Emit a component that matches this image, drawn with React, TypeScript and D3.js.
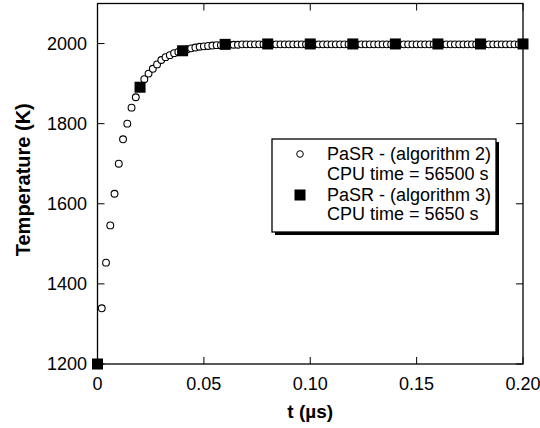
import React from "react";
import * as d3 from "d3";

const tAlg2 = [
  0, 0.002, 0.004, 0.006, 0.008, 0.01, 0.012, 0.014, 0.016, 0.018,
  0.02, 0.022, 0.024, 0.026, 0.028, 0.03, 0.032, 0.034, 0.036, 0.038,
  0.04, 0.042, 0.044, 0.046, 0.048, 0.05, 0.052, 0.054, 0.056, 0.058,
  0.06, 0.062, 0.064, 0.066, 0.068, 0.07, 0.072, 0.074, 0.076, 0.078,
  0.08, 0.082, 0.084, 0.086, 0.088, 0.09, 0.092, 0.094, 0.096, 0.098,
  0.1, 0.102, 0.104, 0.106, 0.108, 0.11, 0.112, 0.114, 0.116, 0.118,
  0.12, 0.122, 0.124, 0.126, 0.128, 0.13, 0.132, 0.134, 0.136, 0.138,
  0.14, 0.142, 0.144, 0.146, 0.148, 0.15, 0.152, 0.154, 0.156, 0.158,
  0.16, 0.162, 0.164, 0.166, 0.168, 0.17, 0.172, 0.174, 0.176, 0.178,
  0.18, 0.182, 0.184, 0.186, 0.188, 0.19, 0.192, 0.194, 0.196, 0.198,
  0.2,
];
const tempAlg2 = [
  1200, 1339, 1453, 1546, 1625, 1700, 1761, 1800, 1840, 1866,
  1890, 1911, 1925, 1937, 1948, 1959, 1966, 1971, 1976, 1979,
  1982, 1985, 1988, 1990, 1992, 1993, 1994, 1995, 1996, 1996,
  1997, 1997, 1997, 1997, 1998, 1998, 1998, 1998, 1998, 1998,
  1998, 1998, 1998, 1998, 1998, 1998, 1998, 1998, 1998, 1998,
  1998, 1998, 1998, 1998, 1998, 1998, 1998, 1998, 1998, 1998,
  1998, 1998, 1998, 1998, 1998, 1998, 1998, 1998, 1998, 1998,
  1998, 1998, 1998, 1998, 1998, 1998, 1998, 1998, 1998, 1998,
  1998, 1998, 1998, 1998, 1998, 1998, 1998, 1998, 1998, 1998,
  1998, 1998, 1998, 1998, 1998, 1998, 1998, 1998, 1998, 1998,
  1998,
];
const tAlg3 = [0, 0.02, 0.04, 0.06, 0.08, 0.1, 0.12, 0.14, 0.16, 0.18, 0.2];
const tempAlg3 = [1200, 1891, 1982, 1998, 1999, 1999, 1999, 1999, 1999, 1999, 1999];

const xTicks = [0, 0.05, 0.1, 0.15, 0.2];
const xTickLabels = ["0", "0.05", "0.10", "0.15", "0.20"];
const yTicks = [1200, 1400, 1600, 1800, 2000];
const yTickLabels = ["1200", "1400", "1600", "1800", "2000"];
const legendLines = [
  "PaSR - (algorithm 2)",
  "CPU time = 56500 s",
  "PaSR - (algorithm 3)",
  "CPU time = 5650 s",
];

const W = 540;
const H = 428;
const L = 97.5, R = 523, T = 3.5, B = 364;
const FONT = "'Liberation Sans', Arial, Helvetica, sans-serif";

export default function App() {
  const x = d3.scaleLinear().domain([0, 0.2]).range([L, R]);
  const y = d3.scaleLinear().domain([1200, 2100]).range([B, T]);
  const tickLen = 7;
  const sq = 11;

  const lx = 272, ly = 139, lw = 224, lh = 93;

  return (
    <svg width={W} height={H} style={{ position: "absolute", left: 0, top: 0, background: "#fff" }} fontFamily={FONT}>
      <rect x={0} y={0} width={W} height={H} fill="#fff" />
      {/* ticks */}
      {xTicks.map((t, i) => (
        <g key={"xt" + i}>
          <line x1={x(t)} x2={x(t)} y1={B} y2={B - tickLen} stroke="#000" strokeWidth={1} />
          <line x1={x(t)} x2={x(t)} y1={T} y2={T + tickLen} stroke="#000" strokeWidth={1} />
          <text x={x(t)} y={390} textAnchor="middle" fontSize={18} fill="#000">{xTickLabels[i]}</text>
        </g>
      ))}
      {yTicks.map((v, i) => (
        <g key={"yt" + i}>
          <line x1={L} x2={L + tickLen} y1={y(v)} y2={y(v)} stroke="#000" strokeWidth={1} />
          <line x1={R} x2={R - tickLen} y1={y(v)} y2={y(v)} stroke="#000" strokeWidth={1} />
          <text x={87} y={y(v)} dy="0.35em" textAnchor="end" fontSize={18} fill="#000">{yTickLabels[i]}</text>
        </g>
      ))}
      {/* frame */}
      <rect x={L} y={T} width={R - L} height={B - T} fill="none" stroke="#000" strokeWidth={1.3} />

      {/* circles */}
      {tAlg2.map((t, i) => (
        <circle key={"c" + i} cx={x(t)} cy={y(tempAlg2[i])} r={3.4} fill="#fff" stroke="#000" strokeWidth={1.1} />
      ))}
      {/* squares */}
      {tAlg3.map((t, i) => (
        <rect key={"s" + i} x={x(t) - sq / 2} y={y(tempAlg3[i]) - sq / 2} width={sq} height={sq} fill="#000" />
      ))}

      {/* legend */}
      <rect x={lx + 3} y={ly + 3} width={lw} height={lh} fill="#000" />
      <rect x={lx} y={ly} width={lw} height={lh} fill="#fff" stroke="#000" strokeWidth={1.3} />
      <circle cx={300} cy={154} r={3.3} fill="#fff" stroke="#000" strokeWidth={1} />
      <rect x={300 - sq / 2} y={195 - sq / 2} width={sq} height={sq} fill="#000" />
      {legendLines.map((s, i) => (
        <text key={"lg" + i} x={327} y={[154, 174, 195, 214][i]} dy="0.35em" fontSize={18} fill="#000">{s}</text>
      ))}

      {/* axis titles */}
      <text x={(L + R) / 2} y={418} textAnchor="middle" fontSize={19} fontWeight="bold" fill="#000">t (µs)</text>
      <text transform={`translate(30, ${(T + B) / 2 - 4}) rotate(-90)`} textAnchor="middle" fontSize={20} fontWeight="bold" fill="#000">Temperature (K)</text>
    </svg>
  );
}
